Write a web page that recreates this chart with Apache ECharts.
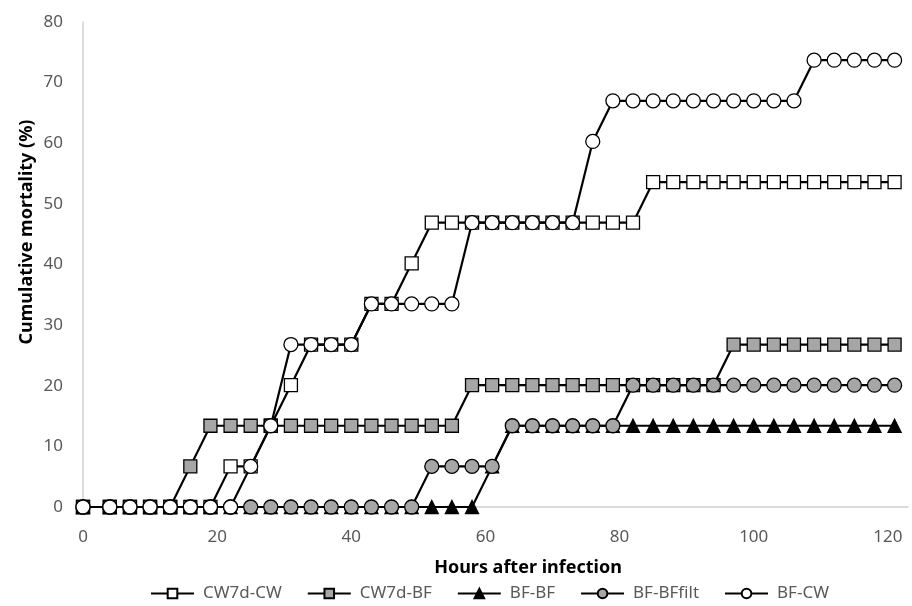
<!DOCTYPE html>
<html>
<head>
    <meta charset="utf-8">
    <title>Cumulative mortality</title>
    <script src="https://cdn.jsdelivr.net/npm/echarts@6.0.0/dist/echarts.min.js"></script>
    <style>
        html, body { margin: 0; padding: 0; background: #fff; }
        #main { width: 912px; height: 606px; }
    </style>
</head>
<body>
    <div id="main"></div>
    <script type="text/javascript">
        // sampling times (hours after infection)
        var hours = [0, 4, 7, 10, 13, 16, 19, 22, 25, 28, 31, 34, 37, 40, 43, 46, 49, 52, 55, 58,
            61, 64, 67, 70, 73, 76, 79, 82, 85, 88, 91, 94, 97, 100, 103, 106, 109, 112, 115, 118, 121];

        // cumulative mortality (%) per group, one value per time above
        var cw7dCw = [0, 0, 0, 0, 0, 0, 0, 6.7, 6.7, 13.4, 20.1, 26.8, 26.8, 26.8, 33.5, 33.5, 40.2,
            46.9, 46.9, 46.9, 46.9, 46.9, 46.9, 46.9, 46.9, 46.9, 46.9, 46.9,
            53.6, 53.6, 53.6, 53.6, 53.6, 53.6, 53.6, 53.6, 53.6, 53.6, 53.6, 53.6, 53.6];
        var cw7dBf = [0, 0, 0, 0, 0, 6.7,
            13.4, 13.4, 13.4, 13.4, 13.4, 13.4, 13.4, 13.4, 13.4, 13.4, 13.4, 13.4, 13.4,
            20.1, 20.1, 20.1, 20.1, 20.1, 20.1, 20.1, 20.1, 20.1, 20.1, 20.1, 20.1, 20.1,
            26.8, 26.8, 26.8, 26.8, 26.8, 26.8, 26.8, 26.8, 26.8];
        var bfBf = [0, 0, 0, 0, 0, 0, 0, 0, 0, 0, 0, 0, 0, 0, 0, 0, 0, 0, 0, 0, 6.7,
            13.4, 13.4, 13.4, 13.4, 13.4, 13.4, 13.4, 13.4, 13.4, 13.4, 13.4, 13.4, 13.4, 13.4, 13.4,
            13.4, 13.4, 13.4, 13.4, 13.4];
        var bfBffilt = [0, 0, 0, 0, 0, 0, 0, 0, 0, 0, 0, 0, 0, 0, 0, 0, 0, 6.7, 6.7, 6.7, 6.7,
            13.4, 13.4, 13.4, 13.4, 13.4, 13.4,
            20.1, 20.1, 20.1, 20.1, 20.1, 20.1, 20.1, 20.1, 20.1, 20.1, 20.1, 20.1, 20.1, 20.1];
        var bfCw = [0, 0, 0, 0, 0, 0, 0, 0, 6.7, 13.4, 26.8, 26.8, 26.8, 26.8,
            33.5, 33.5, 33.5, 33.5, 33.5, 46.9, 46.9, 46.9, 46.9, 46.9, 46.9, 60.3,
            67.0, 67.0, 67.0, 67.0, 67.0, 67.0, 67.0, 67.0, 67.0, 67.0,
            73.7, 73.7, 73.7, 73.7, 73.7];

        var groupNames = ['CW7d-CW', 'CW7d-BF', 'BF-BF', 'BF-BFfilt', 'BF-CW'];
        var xTicks = [0, 20, 40, 60, 80, 100, 120];

        var font = '"Noto Sans", "Open Sans", sans-serif';
        var grey = '#a6a6a6';

        function makeSeries(name, values, symbol, fill, size) {
            return {
                name: name,
                type: 'line',
                data: hours.map(function (h, i) { return [h, values[i]]; }),
                symbol: symbol,
                symbolSize: size,
                showAllSymbol: true,
                clip: false,
                color: fill,
                lineStyle: { color: '#000', width: 2.2 },
                itemStyle: { color: fill, borderColor: '#000', borderWidth: 1.3 },
                emphasis: { disabled: true }
            };
        }

        var myChart = echarts.init(document.getElementById('main'));

        var option = {
            animation: false,
            backgroundColor: '#fff',
            grid: { left: 83, right: 4, top: 22, bottom: 99 },
            legend: {
                data: groupNames,
                left: 150,
                top: 585,
                padding: 0,
                itemWidth: 43,
                itemHeight: 12,
                itemGap: 25,
                textStyle: { color: '#595959', fontSize: 17, fontFamily: font, padding: [0, 0, 0, 4] }
            },
            xAxis: {
                type: 'value',
                min: 0,
                max: 123,
                interval: 20,
                splitLine: { show: false },
                axisTick: { show: false },
                axisLine: { show: true, onZero: false, lineStyle: { color: '#d0d0d0', width: 1.5 } },
                axisLabel: {
                    color: '#595959',
                    fontSize: 17,
                    fontFamily: font,
                    margin: 22,
                    formatter: function (v) { return xTicks.indexOf(v) >= 0 ? String(v) : ''; }
                }
            },
            yAxis: {
                type: 'value',
                min: 0,
                max: 80,
                interval: 10,
                splitLine: { show: false },
                axisTick: { show: false },
                axisLine: { show: true, lineStyle: { color: '#d0d0d0', width: 1.5 } },
                axisLabel: { color: '#595959', fontSize: 17, fontFamily: font, margin: 20 }
            },
            graphic: [
                {
                    type: 'text',
                    x: 528,
                    y: 568,
                    style: {
                        text: 'Hours after infection',
                        fill: '#000',
                        fontSize: 18,
                        fontWeight: 'bold',
                        fontFamily: font,
                        align: 'center',
                        verticalAlign: 'middle'
                    }
                },
                {
                    type: 'text',
                    x: 27,
                    y: 232,
                    rotation: Math.PI / 2,
                    style: {
                        text: 'Cumulative mortality (%)',
                        fill: '#000',
                        fontSize: 18,
                        fontWeight: 'bold',
                        fontFamily: font,
                        align: 'center',
                        verticalAlign: 'middle'
                    }
                }
            ],
            series: [
                makeSeries(groupNames[0], cw7dCw, 'rect', '#fff', 13),
                makeSeries(groupNames[1], cw7dBf, 'rect', grey, 13),
                makeSeries(groupNames[2], bfBf, 'triangle', '#000', 13),
                makeSeries(groupNames[3], bfBffilt, 'circle', grey, 14),
                makeSeries(groupNames[4], bfCw, 'circle', '#fff', 14)
            ]
        };

        myChart.setOption(option);
    </script>
</body>
</html>
